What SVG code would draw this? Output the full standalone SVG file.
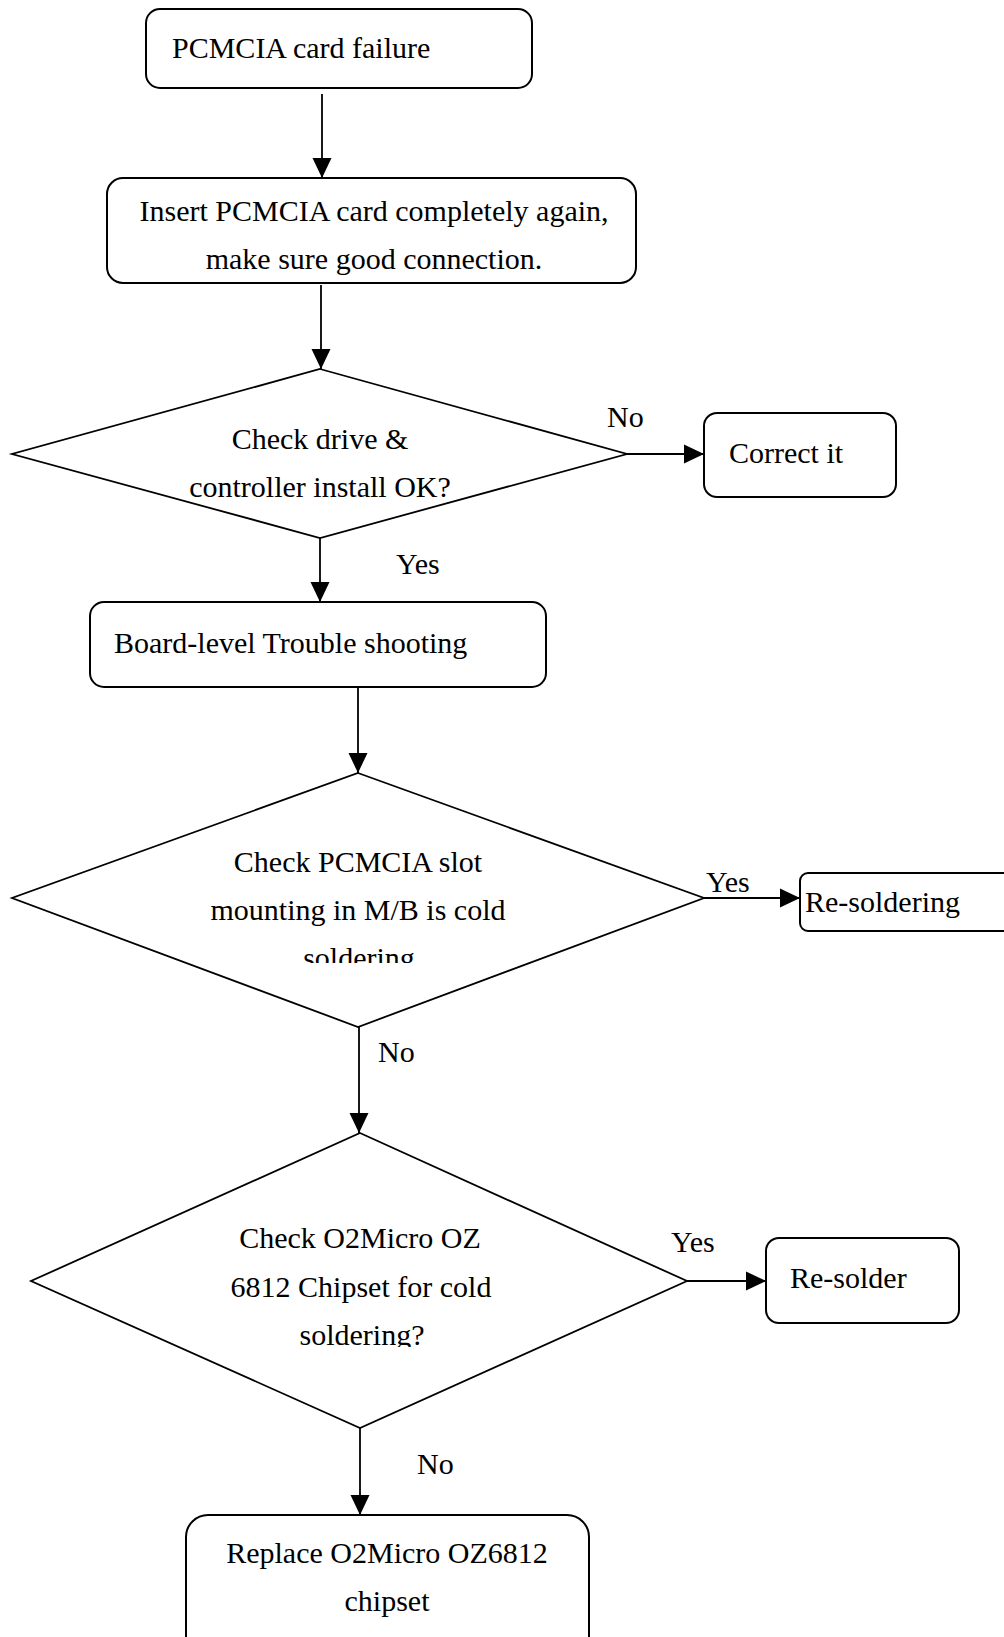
<svg xmlns="http://www.w3.org/2000/svg" width="1004" height="1637" viewBox="0 0 1004 1637">
<style>
  .box { fill: #fff; stroke: #000; stroke-width: 2; }
  .dia { fill: #fff; stroke: #000; stroke-width: 1.8; }
  .t { font-family: "Liberation Serif", "Times New Roman", serif; font-size: 30px; fill: #000; }
  .m { text-anchor: middle; }
  .c { stroke: #000; stroke-width: 1.8; fill: none; marker-end: url(#arr); }
</style>
<defs>
  <marker id="arr" markerUnits="userSpaceOnUse" markerWidth="21" markerHeight="21" refX="20" refY="10" orient="auto">
    <path d="M0,0.5 L20,10 L0,19.5 z" fill="#000"/>
  </marker>
  <clipPath id="clip2"><rect x="0" y="760" width="1004" height="203"/></clipPath>
  <clipPath id="clip3"><rect x="0" y="1130" width="1004" height="217"/></clipPath>
</defs>
<rect width="1004" height="1637" fill="#fff"/>
<g id="connectors">
  <line class="c" x1="322" y1="94" x2="322" y2="178"/>
  <line class="c" x1="321" y1="285" x2="321" y2="369"/>
  <line class="c" x1="320" y1="538" x2="320" y2="602"/>
  <line class="c" x1="627" y1="454" x2="704" y2="454"/>
  <line class="c" x1="358" y1="687" x2="358" y2="773"/>
  <line class="c" x1="704" y1="898" x2="800" y2="898"/>
  <line class="c" x1="359" y1="1027" x2="359" y2="1133"/>
  <line class="c" x1="687" y1="1281" x2="766" y2="1281"/>
  <line class="c" x1="360" y1="1428" x2="360" y2="1515"/>
  <text class="t" x="607" y="427">No</text>
  <text class="t" x="396" y="574">Yes</text>
  <text class="t" x="706" y="892">Yes</text>
  <text class="t" x="378" y="1062">No</text>
  <text class="t" x="671" y="1252">Yes</text>
  <text class="t" x="417" y="1474">No</text>
</g>
<g id="start">
  <rect class="box" x="146" y="9" width="386" height="79" rx="14"/>
  <text class="t" x="172" y="58">PCMCIA card failure</text>
</g>
<g id="insert">
  <rect class="box" x="107" y="178" width="529" height="105" rx="16"/>
  <text class="t m" x="374" y="221">Insert PCMCIA card completely again,</text>
  <text class="t m" x="374" y="269">make sure good connection.</text>
</g>
<g id="check-drive">
  <polygon class="dia" points="320,369 627,454 320,538 12,454"/>
  <text class="t m" x="320" y="449">Check drive &amp;</text>
  <text class="t m" x="320" y="497">controller install OK?</text>
</g>
<g id="correct">
  <rect class="box" x="704" y="413" width="192" height="84" rx="13"/>
  <text class="t" x="729" y="463">Correct it</text>
</g>
<g id="board">
  <rect class="box" x="90" y="602" width="456" height="85" rx="14"/>
  <text class="t" x="114" y="653">Board-level Trouble shooting</text>
</g>
<g id="check-slot">
  <polygon class="dia" points="358,773 704,898 358,1027 12,898"/>
  <g clip-path="url(#clip2)">
    <text class="t m" x="358" y="872">Check PCMCIA slot</text>
    <text class="t m" x="358" y="920">mounting in M/B is cold</text>
    <text class="t m" x="359" y="968">soldering</text>
  </g>
</g>
<g id="resoldering">
  <rect class="box" x="800" y="873" width="230" height="58" rx="8"/>
  <text class="t" x="805" y="912">Re-soldering</text>
</g>
<g id="check-chip">
  <polygon class="dia" points="360,1133 687,1281 360,1428 31,1281"/>
  <g clip-path="url(#clip3)">
    <text class="t m" x="360" y="1248">Check O2Micro OZ</text>
    <text class="t m" x="361" y="1297">6812 Chipset for cold</text>
    <text class="t m" x="362" y="1345">soldering?</text>
  </g>
</g>
<g id="resolder">
  <rect class="box" x="766" y="1238" width="193" height="85" rx="13"/>
  <text class="t" x="790" y="1288">Re-solder</text>
</g>
<g id="replace">
  <rect class="box" x="186" y="1515" width="403" height="160" rx="22"/>
  <text class="t m" x="387" y="1563">Replace O2Micro OZ6812</text>
  <text class="t m" x="387" y="1611">chipset</text>
</g>
</svg>
